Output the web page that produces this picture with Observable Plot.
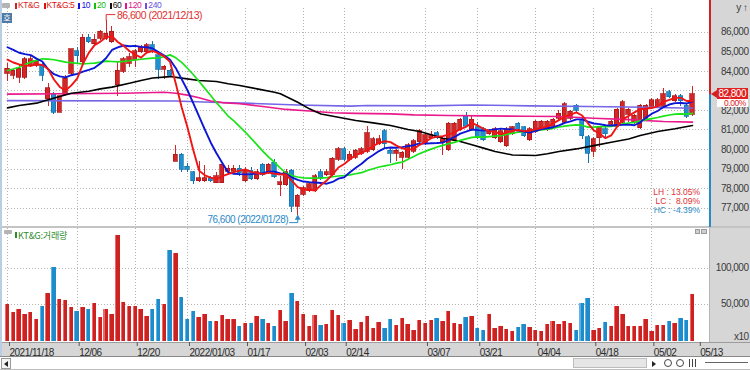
<!DOCTYPE html>
<html><head><meta charset="utf-8">
<script src="https://cdn.jsdelivr.net/npm/d3@7"></script>
<script src="https://cdn.jsdelivr.net/npm/@observablehq/plot@0.6"></script>
<style>
*{box-sizing:border-box}
body{margin:0;background:#fff}
#root{position:relative;width:750px;height:370px;overflow:hidden;background:#fff;font-family:"Liberation Sans",Arial,sans-serif;}
#root svg{position:absolute;left:0;overflow:visible}
#root svg text{letter-spacing:-0.5px}
g[aria-label="hiAnno"] text{letter-spacing:2.2px}
g[aria-label="loAnno"] text{letter-spacing:-0.6px}
#legend{position:absolute;left:15px;top:1px;display:flex;gap:4px;align-items:center;height:9px}
#legend .it{display:flex;align-items:center;gap:1px;font-size:8.5px;letter-spacing:-0.4px;line-height:1}
#legend .sw{width:2px;height:6px;display:inline-block}
</style></head><body><div id="root"></div>
<script>
// ---- data ----
const openP = [83900,83800,83700,83700,84300,84300,84300,82600,82800,81900,
82800,83900,85000,84500,85700,85400,85700,85700,85500,83300,
84000,84400,84600,85000,85000,85300,84800,84100,84000,79400,
79700,79100,78800,78400,78400,78500,78300,78300,78900,78900,
79000,78400,78900,78500,79200,78800,79300,78200,78200,78900,
77100,77700,77900,77900,78800,78700,78700,79500,80000,79500,
79600,79800,79900,80000,80300,80900,79900,79800,79600,79600,
79900,80400,80300,80600,80800,80400,80000,80500,81000,81700,
81000,81100,81000,80800,80600,80400,80200,80800,81300,81100,
80500,80900,81100,81000,81200,81600,81400,81600,82200,81500,
80600,79900,80600,81000,81300,81200,81400,81800,81400,81100,
81600,82200,82200,82200,82900,82500,82700,82200,81800];
const highP = [84400,84100,84300,84700,84800,84600,84500,83400,82900,82700,
83800,85100,85200,85900,85900,85900,86100,86600,86300,84500,
84700,84900,85100,85300,85400,85500,84900,84300,84100,80200,
79800,79300,78900,79400,79200,78600,78800,79300,79200,79200,
79200,79100,79100,79000,79300,79300,79500,78600,79000,79000,
77700,78100,78300,78700,79000,79000,79600,80100,80100,79900,
80000,80100,81200,80600,80700,81000,80100,80000,79900,80300,
80500,81000,80800,80900,80900,80600,81400,81400,81600,81900,
81700,81400,81100,81000,81100,81000,81100,81200,81400,81200,
81100,81500,81500,81500,81600,82000,82400,82000,82300,81600,
80700,80600,81200,81100,81500,82100,82500,82100,81800,82300,
82300,82600,82600,83100,83000,82800,82800,82300,83200];
const lowP = [83500,83600,83400,83600,84200,84200,83500,82200,81800,81900,
82800,83800,84400,84400,85400,85300,85600,85600,85400,82700,
83900,84200,84200,84900,84900,84900,83600,83600,83700,79400,
78800,78800,78200,78300,78300,78300,78300,78300,78700,78800,
78600,78300,78400,78400,78600,78700,78500,77600,78100,76800,
76600,77600,77800,77800,78400,78600,78600,79400,79400,79400,
79500,79700,79800,79900,80200,80000,79300,79400,79000,79500,
79800,80300,80200,80500,80500,79700,79900,80400,80900,81100,
80900,80500,80400,80700,80500,80300,80100,80700,80900,80600,
80400,80800,81000,80900,81100,81500,81300,81500,81900,80500,
79300,79600,80100,80500,81200,81100,81300,81400,81300,81000,
81500,82100,82100,82100,82600,82400,82200,81600,81700];
const closeP = [84100,84000,84100,84600,84600,84500,83800,83100,81900,82700,
83600,85100,84800,85700,85500,85600,86000,85900,86000,84000,
84600,84700,85000,85200,85300,85000,84100,84200,83800,79700,
79000,79000,78400,78500,78500,78400,78600,79200,79000,79000,
78800,78900,78500,78800,78700,79200,78600,78300,78800,77100,
77600,78000,78200,78600,78500,78800,79500,80000,79500,79700,
79900,80000,80800,80500,80500,80300,79800,79900,79800,80200,
80400,80900,80700,80700,80600,80500,81300,81300,81500,81200,
81500,80600,80500,80900,81000,80900,81000,81100,81000,80700,
81000,81400,81400,81400,81500,81800,82300,81900,82000,80700,
79800,80500,81100,80800,81400,82000,82400,82000,81700,82200,
82200,82500,82500,82800,82700,82700,82500,81700,82800];
const volume = [50300,39600,44200,36400,39600,30300,48300,66000,101700,57200,
56300,46100,40500,46100,43300,52100,32200,44200,36400,146100,
53000,47900,47900,43300,33600,44200,58100,50300,125300,121100,
60000,29900,41400,32200,36400,26700,26700,35000,29900,30300,
19700,24300,24300,33600,30300,24300,19700,42800,26700,66400,
55300,36400,20600,35000,21500,23400,42400,35000,24800,28000,
16000,25700,34500,17800,25700,17800,30300,21500,31700,22500,
14600,28000,24800,28500,31700,27100,40500,23900,22500,32600,
33600,16900,15000,36400,17800,20600,16000,13600,18800,23400,
18800,14100,13200,22500,27500,22500,26700,24800,15000,51700,
59000,14600,17800,25200,19700,47500,37300,20100,20600,20600,
29900,13600,21100,21100,26700,24800,31700,28000,64200];
// moving averages
const ma5 = [84600,84450,84350,84300,84280,84360,84320,84120,83580,83200,
83020,83280,83620,84380,84940,85340,85520,85740,85800,85500,
85300,85040,84860,84700,84960,85040,84920,84760,84480,83360,
82160,81140,79980,78920,78680,78560,78480,78640,78740,78840,
78920,78980,78840,78800,78740,78820,78760,78720,78720,78400,
78080,77960,77940,77900,78180,78420,78720,79080,79260,79500,
79720,79820,79980,80180,80340,80420,80380,80200,80060,80000,
80020,80240,80400,80580,80660,80680,80760,80880,81040,81160,
81360,81220,81060,80940,80900,80780,80860,80980,81000,80940,
80960,81040,81100,81180,81340,81500,81680,81780,81900,81740,
81340,80980,80820,80580,80720,81160,81540,81720,81900,82060,
82100,82120,82220,82440,82540,82640,82640,82480,82480];
const ma10 = [85230,85100,84950,84880,84830,84650,84500,84100,83850,83740,
83690,83800,83870,83980,84070,84180,84400,84680,85090,85220,
85320,85280,85300,85250,85230,85170,84980,84810,84590,84160,
83600,83030,82370,81700,81020,80360,79810,79310,78830,78760,
78740,78730,78740,78770,78790,78870,78870,78780,78760,78570,
78450,78360,78330,78310,78290,78250,78340,78510,78580,78840,
79070,79270,79530,79720,79920,80070,80100,80090,80120,80170,
80220,80310,80300,80320,80330,80350,80500,80640,80810,80910,
81020,80990,80970,80990,81030,81070,81040,81020,80970,80920,
80870,80950,81040,81090,81140,81230,81360,81440,81540,81540,
81420,81330,81300,81240,81230,81250,81260,81270,81240,81390,
81630,81830,81970,82170,82300,82370,82380,82350,82460];
const ma20 = [84040,84120,84210,84340,84470,84560,84640,84620,84590,84530,
84470,84440,84410,84380,84400,84420,84470,84520,84500,84480,
84505,84540,84585,84615,84650,84675,84690,84745,84840,84690,
84460,84155,83835,83475,83125,82765,82395,82060,81710,81460,
81170,80880,80555,80235,79905,79615,79340,79045,78795,78665,
78595,78545,78535,78540,78540,78560,78605,78645,78670,78705,
78760,78815,78930,79015,79105,79160,79220,79300,79350,79505,
79645,79790,79915,80020,80125,80210,80300,80365,80465,80540,
80620,80650,80635,80655,80680,80710,80770,80830,80890,80915,
80945,80970,81005,81040,81085,81150,81200,81230,81255,81230,
81145,81140,81170,81165,81185,81240,81310,81355,81390,81465,
81525,81580,81635,81705,81765,81810,81820,81810,81850];
const ma60 = [[0,82130],[2,82250],[5,82370],[7,82540],[9,82710],[11,82880],[14,82980],[16,83100],[18,83190],[21,83390],[23,83530],[25,83660],[28,83730],[30,83650],[33,83530],[36,83480],[38,83360],[40,83270],[43,83100],[46,82930],[47,82850],[50,82420],[52,82080],[54,81820],[57,81650],[60,81480],[63,81360],[66,81230],[69,81020],[71,80920],[73,80750],[75,80580],[78,80410],[80,80240],[82,80070],[84,79900],[87,79720],[91,79690],[93,79780],[95,79900],[98,80030],[101,80200],[104,80370],[107,80540],[109,80720],[112,80920],[115,81060],[118,81230]];
const ma120 = [[0,82830],[10,82850],[20,82880],[27,82930],[29,82880],[31,82780],[33,82650],[35,82480],[37,82400],[40,82340],[44,82200],[48,82050],[52,81970],[56,81880],[60,81850],[66,81820],[70,81770],[76,81740],[82,81720],[89,81700],[95,81690],[101,81600],[107,81530],[113,81430],[118,81400]];
const ma240 = [[0,82500],[29,82480],[35,82420],[42,82360],[50,82280],[59,82220],[62,82250],[72,82230],[80,82280],[90,82230],[100,82200],[110,82160],[118,82110]];
const priceTicks = [77000,78000,79000,80000,81000,82000,83000,84000,85000,86000];
const priceLabelTicks = [77000,78000,79000,80000,81000,82000,84000,85000,86000]; // 83,000 sits under the price box
const volTicks = [50000,100000];
const dateTickIdx = [0,12,22,31,41,51,58,72,81,91,101,111,119];
const dateTickLabels = ["2021/11/18","12/06","12/20","2022/01/03","01/17","02/03","02/14","03/07","03/21","04/04","04/18","05/02","05/13"];
const hiLabelDate = "2021/12/13", loLabelDate = "2022/01/28";
const legendItems = [["KT&G","#d71f1f"],["KT&G:5","#e01010"],["10","#1010e0"],["20","#10c010"],["60","#111"],["120","#e0168c"],["240","#6a4fe0"]];

// ---- styles ----
const RED = "#d42626", RED_D = "#a81414", BLUE = "#1f8fd0", BLUE_D = "#1672aa";
const idx = d3.range(closeP.length);
const up = i => closeP[i] >= openP[i];
const xOpt = {domain:[0,119], range:[7,697.8]};
const fmt = d3.format(",");
const root = document.getElementById("root");
function box(l,t,w,h,s){const d=document.createElement("div");d.style.cssText=`position:absolute;left:${l}px;top:${t}px;width:${w}px;height:${h}px;${s||""}`;root.appendChild(d);return d;}
function label(l,t,txt,s){const d=document.createElement("div");d.textContent=txt;d.style.cssText=`position:absolute;left:${l}px;top:${t}px;white-space:pre;line-height:1;${s||""}`;root.appendChild(d);return d;}

// background panels
box(711,0,39,227,"background:#d6d6d6");
box(709,228,41,114,"background:#d6d6d6;border-left:1px solid #b4b4b4");
box(0,226,750,2,"background:#c4c4c4");
box(0,342,750,14,"background:#d6d6d6;border-top:1px solid #9c9c9c");
box(0,356,750,14,"background:#fff;border-top:1px solid #8a8a8a;border-bottom:1px solid #bdbdbd");
box(0,0,2,356,"background:#b9cde3");

const hiI = d3.maxIndex(highP), hiV = highP[hiI];
const loI = d3.minIndex(lowP), loV = lowP[loI];
const gridStyle = {stroke:"#b4b4b4", strokeOpacity:1, strokeDasharray:"1,2", shapeRendering:"crispEdges"};
const maLine = (data, color, w) => Plot.line(data, {x:d=>d[0], y:d=>d[1], stroke:color, strokeWidth:w});

const pricePlot = Plot.plot({
  width:750, height:227, marginTop:8, marginRight:41, marginBottom:1, marginLeft:5,
  style:{background:"transparent", fontFamily:"Liberation Sans, Arial, sans-serif", fontSize:"10px"},
  x:{...xOpt, axis:null},
  y:{domain:[76000,87000], range:[227.2,12.15]},
  color:{type:"identity"},
  marks:[
    Plot.ruleY(priceTicks, gridStyle),
    Plot.ruleX(dateTickIdx.slice(0,-1), gridStyle),
    Plot.axisY(priceLabelTicks, {anchor:"right", tickSize:0, tickPadding:0, textAnchor:"end", dx:39, tickFormat:fmt, fill:"#3a3a3a", fontSize:10}),
    Plot.ruleX(idx, {x:i=>i, y1:i=>lowP[i], y2:i=>highP[i], stroke:i=>up(i)?RED:BLUE_D, strokeWidth:1, shapeRendering:"crispEdges"}),
    Plot.rect(idx, {x1:i=>i-0.37, x2:i=>i+0.37, y1:i=>openP[i], y2:i=>closeP[i], fill:i=>up(i)?RED:BLUE, stroke:i=>up(i)?RED_D:BLUE_D, strokeWidth:0.7, insetTop:-0.5, insetBottom:-0.5, shapeRendering:"crispEdges"}),
    maLine(ma240, "#7466e6", 1.6),
    maLine(ma120, "#ea1a8a", 1.6),
    maLine(ma60, "#000", 1.6),
    maLine(idx.map(i=>[i, ma20[i]]), "#18e418", 1.7),
    maLine(idx.map(i=>[i, ma10[i]]), "#0a18d6", 1.9),
    maLine(idx.map(i=>[i, ma5[i]]), "#f01414", 1.9),
    Plot.line([[hiI,hiV],[hiI,hiV+300],[hiI+1.5,hiV+300]], {x:d=>d[0], y:d=>d[1], stroke:"#e03030", strokeWidth:1}),
    Plot.text([{x:hiI+1.5, y:hiV+300, t:`${fmt(hiV)} (${hiLabelDate})`}], {x:"x", y:"y", text:"t", fill:"#e03030", textAnchor:"start", dx:2, dy:1, fontSize:10.5, ariaLabel:"hiAnno"}),
    Plot.line([[loI-1.4,loV-340],[loI,loV-340],[loI,loV]], {x:d=>d[0], y:d=>d[1], stroke:"#2a8ac8", strokeWidth:1}),
    Plot.dot([[loI,loV]], {x:d=>d[0], y:d=>d[1], symbol:"triangle", r:2.2, fill:"#2a8ac8", dy:2}),
    Plot.text([{x:loI-1.5, y:loV-340, t:`${fmt(loV)} (${loLabelDate})`}], {x:"x", y:"y", text:"t", fill:"#2a8ac8", textAnchor:"end", dx:-1, dy:-2.5, fontSize:10, ariaLabel:"loAnno"})
  ]
});
pricePlot.style.top = "0px";
root.appendChild(pricePlot);

const volPlot = Plot.plot({
  width:750, height:134, marginTop:0, marginRight:41, marginBottom:20, marginLeft:5,
  style:{background:"transparent", fontFamily:"Liberation Sans, Arial, sans-serif", fontSize:"10px"},
  x:xOpt,
  y:{domain:[0,150000], range:[112.5,4.2]},
  color:{type:"identity"},
  marks:[
    Plot.ruleY(volTicks, gridStyle),
    Plot.ruleX(dateTickIdx.slice(0,-1), gridStyle),
    Plot.rect(idx, {x1:i=>i-0.38, x2:i=>i+0.38, y1:0, y2:i=>volume[i], fill:i=>up(i)?"#cc2222":"#1e8ccc", shapeRendering:"crispEdges"}),
    Plot.rect(idx, {x1:i=>i-0.38, x2:i=>i-0.2, y1:0, y2:i=>volume[i], fill:i=>up(i)?"#ee6a6a":"#5ab4e4", shapeRendering:"crispEdges"}),
    Plot.axisY(volTicks, {anchor:"right", tickSize:0, tickPadding:0, textAnchor:"end", dx:39, dy:-1.5, tickFormat:fmt, fill:"#3a3a3a", fontSize:10}),
    Plot.axisY([0], {anchor:"right", tickSize:0, tickPadding:0, textAnchor:"end", dx:39, dy:-4.5, tickFormat:()=>"x10", fill:"#3a3a3a", fontSize:10}),
    Plot.axisX(dateTickIdx, {anchor:"bottom", tickSize:4, tickPadding:2, textAnchor:"start", dx:2, stroke:"#555", fill:"#2a2a2a", fontSize:10, tickFormat:d=>dateTickLabels[dateTickIdx.indexOf(d)]})
  ]
});
volPlot.style.top = "228px";
root.appendChild(volPlot);

// current price marker on the right axis
const ys = pricePlot.scale("y");
const lastC = closeP[closeP.length-1];
const yc = ys.apply(lastC);
box(709,0,2,yc,"background:#d42020");
box(709,yc,2,227-yc,"background:#2a8ac8");
box(711,yc-4.5,6,9,"width:0;height:0;border-top:4.5px solid transparent;border-bottom:4.5px solid transparent;border-right:6px solid #d42020");
label(717,yc-6,fmt(lastC),"width:31px;height:11px;padding-top:1px;background:#e02020;color:#fff;font-size:10px;letter-spacing:-0.5px;text-align:right;padding-right:2px");
label(717,yc+4.5,"0.00%","width:31px;height:8px;background:#fff;color:#e02020;font-size:8.5px;line-height:8px;letter-spacing:-0.4px;text-align:right;padding-right:2px");

// LH / LC / HC
const pct = v => (v*100).toFixed(2)+"%";
label(640,188,`LH : ${pct(hiV/loV-1)}`,"width:60px;text-align:right;font-size:8.5px;color:#e03030");
label(640,197,`LC :  ${pct(lastC/loV-1)}`,"width:60px;text-align:right;font-size:8.5px;color:#e03030");
label(640,206,`HC : ${pct(lastC/hiV-1)}`,"width:60px;text-align:right;font-size:8.5px;color:#2a8ac8");

// legend row
box(2,3,8,5,"background:#b4b4b4;border-radius:1px");
const lg = document.createElement("div"); lg.id = "legend"; root.appendChild(lg);
legendItems.forEach(([t,c])=>{
  const it = document.createElement("span"); it.className = "it"; it.style.color = c;
  const sw = document.createElement("span"); sw.className = "sw"; sw.style.background = c;
  const tx = document.createElement("span"); tx.textContent = t;
  it.appendChild(sw); it.appendChild(tx); lg.appendChild(it);
});
label(2,13,"호","width:10px;height:10px;background:#4f79a6;color:#fff;font-size:8px;text-align:center;line-height:10px;font-family:'Noto Sans CJK KR'");

// volume panel header
box(4,230,8,4,"background:#b4b4b4;border-radius:1px");
box(15,232,2,6,"background:#2e8b2e");
label(18,231,"KT&G:거래량","font-size:9px;color:#2e8b2e;font-family:'Noto Sans CJK KR','Liberation Sans';letter-spacing:-0.2px");
box(695,229,5,5,"background:#cfcfcf;border:1px solid #9a9a9a");
box(701,229,6,5,"background:#cfcfcf;border:1px solid #9a9a9a");

// scrollbar row (drawn shapes, not text)
box(1,358,10,11,"border:1px solid #9a9a9a;background:#f4f4f4");
box(3,360,0,0,"width:0;height:0;border-top:3px solid transparent;border-bottom:3px solid transparent;border-right:4px solid #222;top:361px;left:4px");
box(573,358,74,10,"background:#e6e6e6;border:1px solid #bdbdbd");
box(652,361,0,0,"width:0;height:0;border-top:3px solid transparent;border-bottom:3px solid transparent;border-left:4px solid #222");
box(664,359,8,8,"border:1px solid #444;border-radius:50%");
box(676,359,8,8,"border:1px solid #444;border-radius:50%");
box(689,359,1,8,"background:#444");box(692,359,1,8,"background:#444");box(695,359,1,8,"background:#444");
box(705,362,43,1,"background:#666");
</script></body></html>
